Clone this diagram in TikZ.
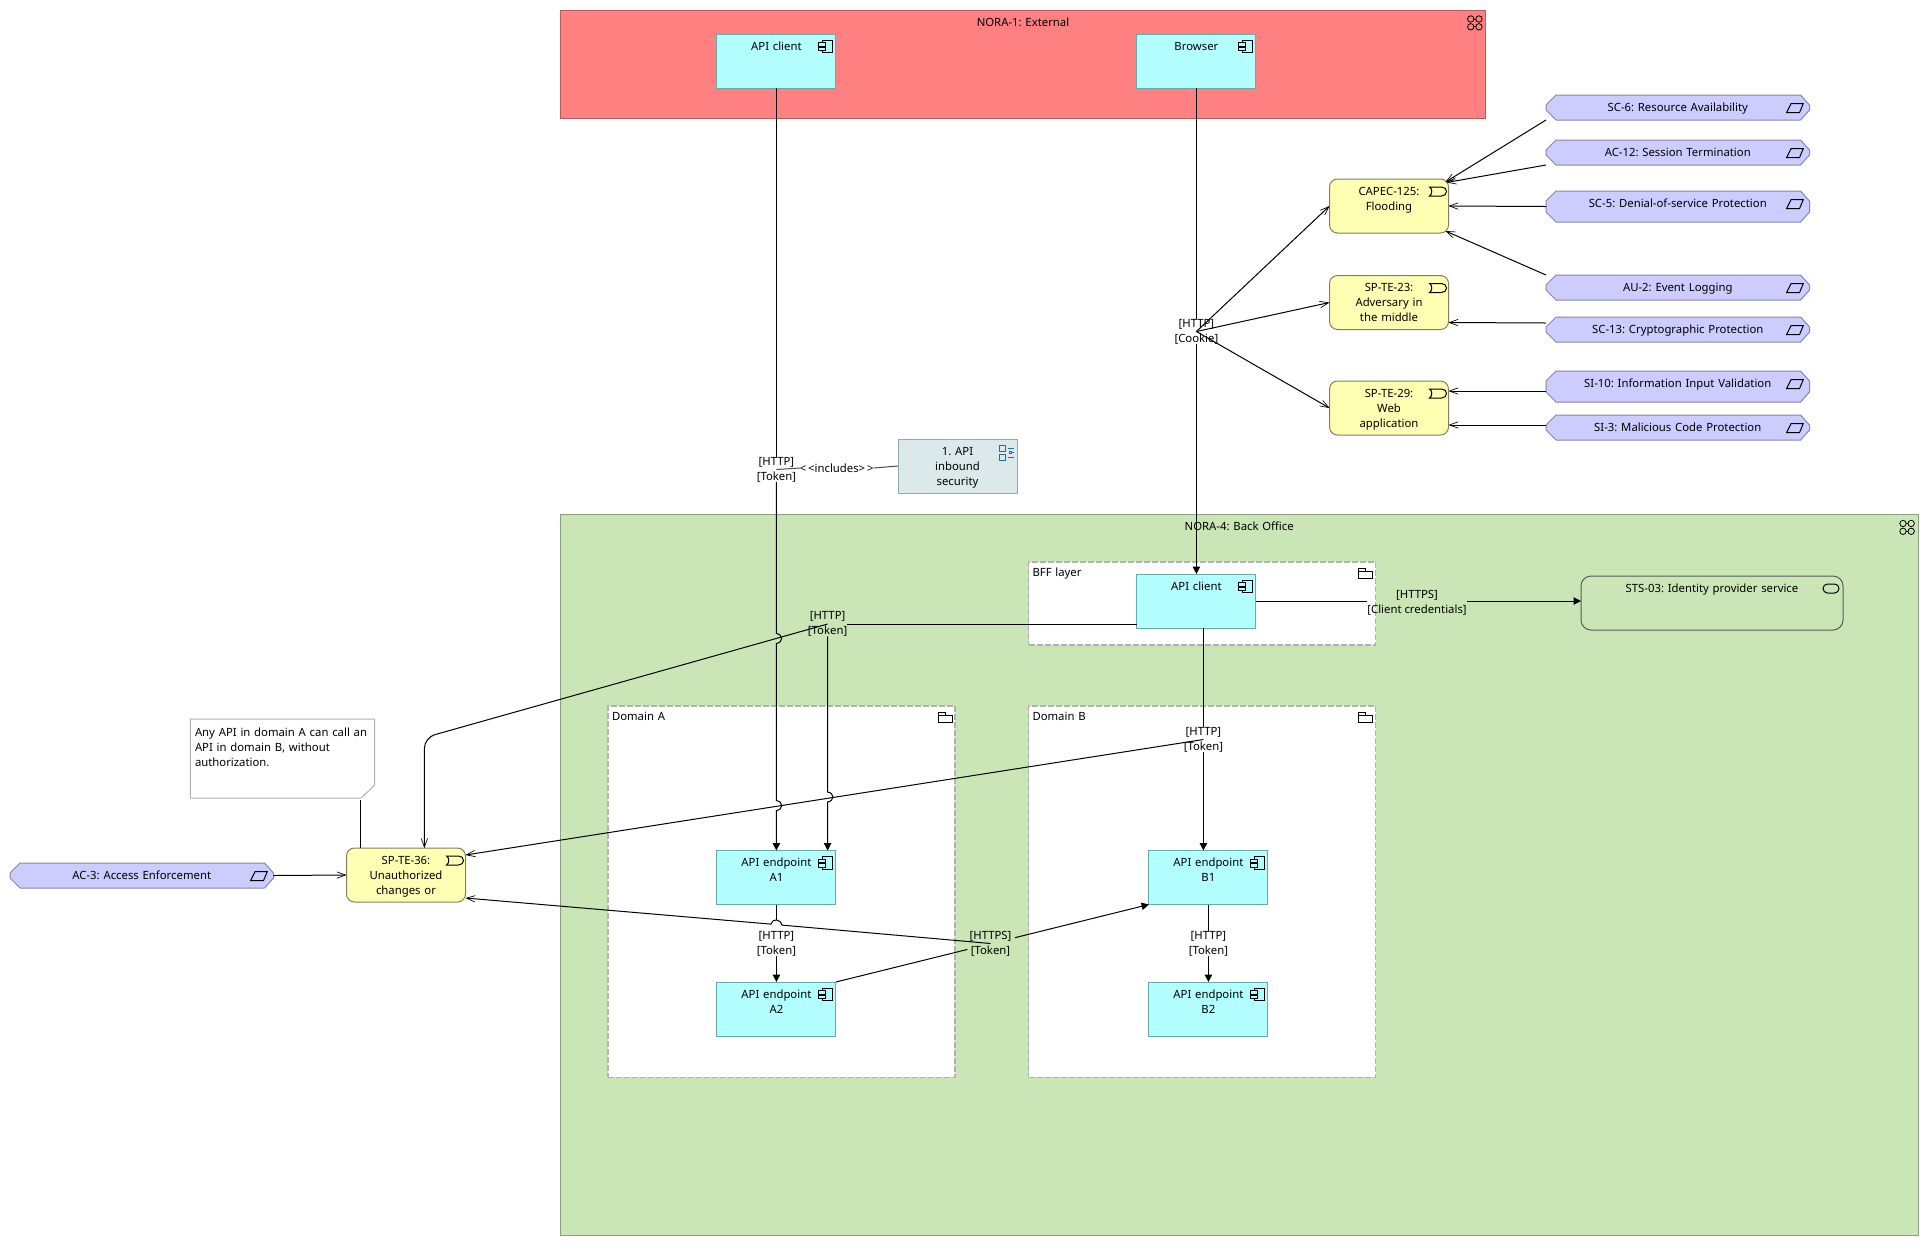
\documentclass[tikz,border=0pt]{standalone}
\usepackage{fontspec}
\setmainfont{Noto Sans}
\usetikzlibrary{arrows.meta,calc}
\definecolor{redfill}{HTML}{FF8080}
\definecolor{redline}{HTML}{B85C5C}
\definecolor{greenfill}{HTML}{CBE6B6}
\definecolor{greenline}{HTML}{8C9E80}
\definecolor{cyanfill}{HTML}{B3FFFF}
\definecolor{cyanline}{HTML}{66AAAA}
\definecolor{yellowfill}{HTML}{FFFFB3}
\definecolor{yellowline}{HTML}{808060}
\definecolor{bluefill}{HTML}{CCCCFF}
\definecolor{blueline}{HTML}{8484B0}
\definecolor{taskfill}{HTML}{DCE9EA}
\definecolor{taskline}{HTML}{94A8AA}
\definecolor{taskicon}{HTML}{2070B8}
\tikzset{
  every node/.style={font=\fontsize{8.5}{11.25}\selectfont\frenchspacing,inner sep=0pt,outer sep=0pt},
  every path/.style={line width=.75pt},
  topbox/.style={anchor=north,align=center,text height=12pt},
  comp/.style={topbox,draw=cyanline,fill=cyanfill,text width=89.25pt,text depth=28.5pt},
  threat/.style={topbox,draw=yellowline,fill=yellowfill,rounded corners=6pt,text width=89.25pt,text depth=28.5pt},
  reqs/.style={topbox,text width=197.6pt,text depth=6.75pt},
  reqt/.style={topbox,text width=197.6pt,text depth=11.25pt},
  hexshape/.style={draw=blueline,fill=bluefill},
  grp/.style={anchor=north,line width=1pt,dash pattern=on 4.5pt off 1.5pt,draw=black!30,fill=white,align=left,text height=10.5pt,inner xsep=3pt,text width=254.25pt},
  lab/.style={align=center},
  open/.style={-{Straight Barb[length=6.5pt,width=4.8pt,line width=.5pt]}},
  solid tip/.style={-{Triangle[length=5.5pt,width=5.5pt]}},
  pics/compicon/.style={code={
    \draw[fill=none] (-13.6,6) rectangle (-3.6,18.6);
    \draw[fill=cyanfill] (-17,8.5) rectangle (-10.5,12);
    \draw[fill=cyanfill] (-17,13) rectangle (-10.5,16.5);}},
  pics/threaticon/.style={code={
    \draw (-19,8) -- (-7,8) .. controls (-4,8) and (-2,10) .. (-2,12.5)
      .. controls (-2,15) and (-4,17) .. (-7,17) -- (-19,17)
      .. controls (-16,15.5) and (-16,9.5) .. (-19,8) -- cycle;}},
  pics/reqicon/.style={code={
    \draw (-23,17.7) -- (-18.5,8.7) -- (-6.3,8.7) -- (-10,17.7) -- cycle;}},
  pics/foldericon/.style={code={
    \draw (-16.7,9) rectangle (-3,16.3);
    \draw (-16.7,9) -- (-16.7,6.3) -- (-10,6.3) -- (-10,9);}},
  pics/cloicon/.style={code={
    \foreach \a/\b in {-15/9,-6.8/9,-15/16.8,-6.8/16.8}{\draw[line width=.6pt] (\a,\b) circle (3.2);}
    \draw[line width=.6pt] (-11.8,9) -- (-10,9);
    \draw[line width=.6pt] (-11.8,16.8) -- (-10,16.8);}},
}
% left, top, right, bottom, name, style, text
\newcommand{\hexa}[7]{%
  \path[hexshape] (#1,{min(#2+10,(#2+#4)/2)}) -- ({#1+10},#2) -- ({#3-9},#2) -- (#3,{min(#2+10,(#2+#4)/2)})
     -- (#3,{max(#4-10,(#2+#4)/2)}) -- ({#3-9},#4) -- ({#1+10},#4) -- (#1,{max(#4-10,(#2+#4)/2)}) -- cycle;
  \node[#6] (#5) at ({(#1+#3)/2},#2) {#7};
  \pic at (#5.north east) {reqicon};}
\newcommand{\hopv}[1]{-- ($(#1)+(0,-5)$) .. controls ($(#1)+(7,-4)$) and ($(#1)+(7,4)$) .. ($(#1)+(0,5)$)}
\begin{document}
\begin{tikzpicture}[x=.75pt,y=-.75pt]
\useasboundingbox (0,0) rectangle (1928,1247);
\fill[white] (0,0) rectangle (1928,1247);

% containers
\node[topbox,draw=redline,fill=redfill,text width=694.1pt,text depth=69pt] (ext) at (1023,10) {NORA-1: External};
\pic at (ext.north east) {cloicon};
\node[topbox,draw=greenline,fill=greenfill,text width=1018.1pt,text depth=529pt] (back) at (1239.25,514.5) {NORA-4: Back Office};
\pic at (back.north east) {cloicon};

\node[grp,text depth=51.75pt] (bfflayer) at (1202,562) {BFF layer};
\pic at (bfflayer.north east) {foldericon};
\node[grp,text depth=268pt] (doma) at (781.5,706) {Domain A};
\pic at (doma.north east) {foldericon};
\node[grp,text depth=268pt] (domb) at (1202,706) {Domain B};
\pic at (domb.north east) {foldericon};

% components
\node[comp] (apix) at (776.4,34) {API client};
\pic at (apix.north east) {compicon};
\node[comp] (browser) at (1196.4,34) {Browser};
\pic at (browser.north east) {compicon};
\node[comp] (bff) at (1196.4,574) {API client};
\pic at (bff.north east) {compicon};
\node[comp] (a1) at (776.4,850.5) {API endpoint\\A1};
\pic at (a1.north east) {compicon};
\node[comp] (a2) at (776.4,982) {API endpoint\\A2};
\pic at (a2.north east) {compicon};
\node[comp] (b1) at (1208.4,850.5) {API endpoint\\B1};
\pic at (b1.north east) {compicon};
\node[comp] (b2) at (1208.4,982) {API endpoint\\B2};
\pic at (b2.north east) {compicon};

% threats
\node[threat] (capec) at (1389,179) {CAPEC-125:\\Flooding};
\pic at (capec.north east) {threaticon};
\node[threat] (te23) at (1389,275.5) {SP-TE-23:\\Adversary in\\the middle};
\pic at (te23.north east) {threaticon};
\node[threat] (te29) at (1389,381) {SP-TE-29:\\Web\\application};
\pic at (te29.north east) {threaticon};
\node[threat] (te36) at (406,848) {SP-TE-36:\\Unauthorized\\changes or};
\pic at (te36.north east) {threaticon};

% requirements
\hexa{1546}{95}{1809.5}{120}{sc6}{reqs}{SC-6: Resource Availability}
\hexa{1546}{140}{1809.5}{165}{ac12}{reqs}{AC-12: Session Termination}
\hexa{1546}{191}{1809.5}{222}{sc5}{reqt}{SC-5: Denial-of-service Protection}
\hexa{1546}{275}{1809.5}{300}{au2}{reqs}{AU-2: Event Logging}
\hexa{1546}{317}{1809.5}{342}{sc13}{reqs}{SC-13: Cryptographic Protection}
\hexa{1546}{371}{1809.5}{402}{si10}{reqt}{SI-10: Information Input Validation}
\hexa{1546}{415}{1809.5}{440}{si3}{reqs}{SI-3: Malicious Code Protection}
\hexa{10}{863}{273.5}{888}{ac3}{reqs}{AC-3: Access Enforcement}

% service
\node[topbox,draw=black!65,fill=greenfill,rounded corners=7.5pt,text width=196.5pt,text depth=28.5pt] (sts) at (1712,576) {STS-03: Identity provider service};
\draw (sts.north east) ++(-15.5,8) -- ++(7,0) arc[start angle=-90,end angle=90,radius=4.5] -- ++(-7,0) arc[start angle=90,end angle=270,radius=4.5];

% task
\node[topbox,draw=taskline,fill=taskfill,text width=89.25pt,text depth=28.5pt] (task) at (957.5,439) {1. API\\inbound\\security};
\begin{scope}[draw=taskicon,shift={(task.north east)}]
  \draw[taskicon] (-17.5,6) rectangle (-12,12);
  \draw[taskicon] (-17.5,15) rectangle (-12,21);
  \draw[taskicon] (-9.5,9) -- (-3,9);
  \draw[taskicon] (-8,12.7) rectangle (-6,14.3);
  \draw[taskicon] (-6,13.5) -- (-3,13.5);
  \draw[taskicon] (-9.5,18) -- (-3,18);
\end{scope}

% note
\node[draw=none,anchor=north west,minimum width=138.3pt,minimum height=59.25pt] (note) at (190.3,719) {};
\draw[draw=black!30,fill=white] (note.north west) -- (note.north east) -- ($(note.south east)+(0,-13)$) -- ($(note.south east)+(-13.5,0)$) -- (note.south west) -- cycle;
\node[anchor=north west,align=left,text width=137pt,text height=7pt] (notetext) at (195,727) {Any API in domain A can call an\\API in domain B, without\\authorization.};

% labels
\node[lab] (l1) at (776.4,469.5) {[HTTP]\\{[Token]}};
\node[lab] (linc) at (836.7,468) {<\,<includes>\,>};
\node[lab] (lc) at (1196.4,331.5) {[HTTP]\\{[Cookie]}};
\node[lab] (lt) at (827.6,624) {[HTTP]\\{[Token]}};
\node[lab] (ld) at (1203.4,739.5) {[HTTP]\\{[Token]}};
\node[lab] (ls) at (1417,602.5) {[HTTPS]\\{[Client credentials]}};
\node[lab] (la) at (776.4,943.5) {[HTTP]\\{[Token]}};
\node[lab] (lb) at (1208.4,943.5) {[HTTP]\\{[Token]}};
\node[lab] (lh) at (990.5,943.5) {[HTTPS]\\{[Token]}};

% crossing points
\coordinate (xb) at (1203.4,700);
\coordinate (h1) at (776.4,638.5);
\coordinate (h2) at (776.4,805.6);
\coordinate (h3) at (827.6,797);
\coordinate (h4) at (776.4,924.6);
\coordinate (bend) at (424.4,737.6);
\coordinate (noteanchor) at (360.4,800);

% connectors
\draw (apix.south) -- (l1.north);
\draw[solid tip] (l1.south) \hopv{h1} \hopv{h2} -- (a1.north);
\draw[draw=black!70] (l1.center) -- (linc.west);
\draw[draw=black!70] (linc.east) -- (task.west);

\draw (browser.south) -- (lc.north);
\draw[solid tip] (lc.south) -- (bff.north);
\draw[open] (lc.center) -- (capec.west);
\draw[open] (lc.center) -- (te23.west);
\draw[open] (lc.center) -- (te29.west);

\draw[open] (sc6.south west) -- ($(capec.north east)+(-3,3)$);
\draw[open] (ac12.south west) -- ($(capec.north east)+(-2,3.5)$);
\draw[open] (sc5.west) -- (capec.east);
\draw[open] (au2.north west) -- ($(capec.south east)+(-3,-2)$);
\draw[open] ($(sc13.west)+(0,-6.5)$) -- ($(te23.south east)+(0,-7)$);
\draw[open] ($(si10.west)+(0,4.5)$) -- ($(te29.north east)+(0,10)$);
\draw[open] ($(si3.west)+(0,-2.5)$) -- ($(te29.south east)+(0,-10)$);
\draw[open] (ac3.east) -- (te36.west);
\draw (noteanchor) -- (noteanchor |- te36.north);

\draw (lt.east) -- (lt.east -| bff.west);
\draw[solid tip] (lt.south) \hopv{h3} -- (lt.south |- a1.north);
\draw[open,rounded corners=8pt] (lt.center) -- (bend) -- (bend |- te36.north);

\draw (bff.east) -- (ls.west |- bff.east);
\draw[solid tip] (ls.east |- bff.east) -- (sts.west |- bff.east);

\draw (xb |- bff.south) -- (ld.north);
\draw[solid tip] (ld.south) -- (xb |- b1.north);
\draw[open] (ld.center) -- ($(te36.north east)+(0,7)$);

\draw (a1.south) -- ($(h4)+(0,-5)$);
\draw[solid tip] (la.south) -- (a2.north);
\draw (b1.south) -- (lb.north);
\draw[solid tip] (lb.south) -- (b2.north);

\draw[open] (lh.center) -- ($(h4)+(5.5,.5)$) .. controls ($(h4)+(4,-6)$) and ($(h4)+(-4,-6.5)$) .. ($(h4)+(-5.5,-.5)$) -- ($(te36.south east)+(0,-4)$);
\draw (a2.north east) -- ($(a2.north east)!.42!(b1.south west)$);
\draw[solid tip] ($(a2.north east)!.572!(b1.south west)$) -- (b1.south west);
\end{tikzpicture}
\end{document}
